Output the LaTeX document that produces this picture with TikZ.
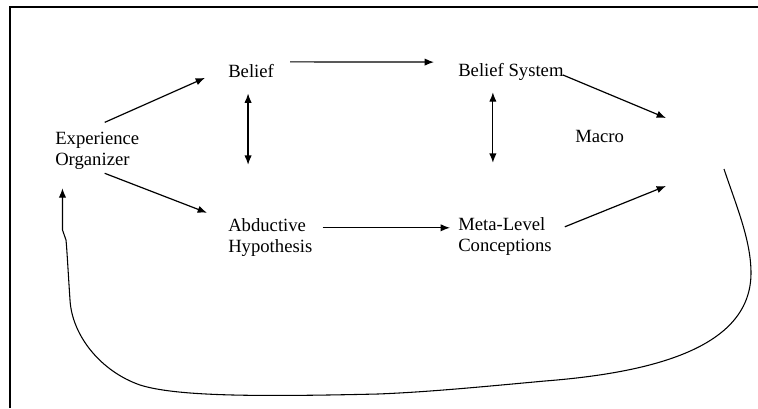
\documentclass[tikz,border=0pt]{standalone}
\usepackage{fontspec}
\setmainfont{Liberation Serif}
\usetikzlibrary{arrows.meta}

\begin{document}
\begin{tikzpicture}[x=.75pt, y=-.75pt, >={Latex[length=7pt,width=5.5pt]},
  every node/.style={inner sep=0pt, font=\fontsize{14}{15.75}\selectfont},
  arr/.style={->, line width=.9pt},
  dbl/.style={<->, line width=.9pt}]
\useasboundingbox (0,0) rectangle (758,408);
% frame
\draw[line width=1pt] (10,408) |- (758,7);

\node[anchor=base west, align=left] (exp) at (55,165) {Experience\\Organizer};
\node[anchor=base west] (belief) at (228,77) {Belief};
\node[anchor=base west] (bsys) at (458,76) {Belief System};
\node[anchor=base west] (macro) at (575,142) {Macro};
\node[anchor=base west, align=left] (abd) at (228,252) {Abductive\\Hypothesis};
\node[anchor=base west, align=left] (meta) at (458,251) {Meta-Level\\Conceptions};

\coordinate (mtop) at (666,118);
\coordinate (mbot) at (666,186);
\coordinate (cstart) at (724,169);

\draw[arr] ([xshift=5.6pt,yshift=6.75pt]exp.north) -- ([xshift=-17.25pt,yshift=-5.5pt]belief.west);
\draw[arr] ([xshift=5.6pt,yshift=-3pt]exp.south) -- ([xshift=-15.75pt,yshift=3.75pt]abd.north west);
\draw[arr] ([xshift=12pt,yshift=6.5pt]belief.east) -- ([xshift=-18pt,yshift=7pt]bsys.west);
\draw[arr] ([xshift=-.75pt,yshift=-2.6pt]bsys.east) -- (mtop);
\draw[arr] ([xshift=9.75pt,yshift=-7.5pt]meta.north east) -- (mbot);
\draw[arr] ([xshift=7.5pt,yshift=-7.5pt]abd.north east) -- ([xshift=-6pt,yshift=-8.25pt]meta.north west);
\draw[dbl] ([xshift=-2.25pt,yshift=-12pt]belief.south) -- ([xshift=-2.25pt,yshift=39.75pt]belief.south |- abd.north);
\draw[dbl] ([xshift=-13.5pt,yshift=-9pt]bsys.south) -- ([xshift=-13.5pt,yshift=40.5pt]bsys.south |- meta.north);

% feedback loop
\draw[->, line width=.8pt] (cstart) .. controls (736,205) and (751,240) .. (751,273)
  .. controls (751,345) and (660,372) .. (545,381)
  .. controls (490,386) and (430,392) .. (378,394)
  .. controls (250,397) and (175,396) .. (140,385)
  .. controls (100,371) and (72,335) .. (70,300)
  .. controls (68,270) and (67,250) .. (66,240)
  -- (62.5,230) -- ([xshift=5.6pt,yshift=-14.25pt]exp.south west);
\end{tikzpicture}
\end{document}
